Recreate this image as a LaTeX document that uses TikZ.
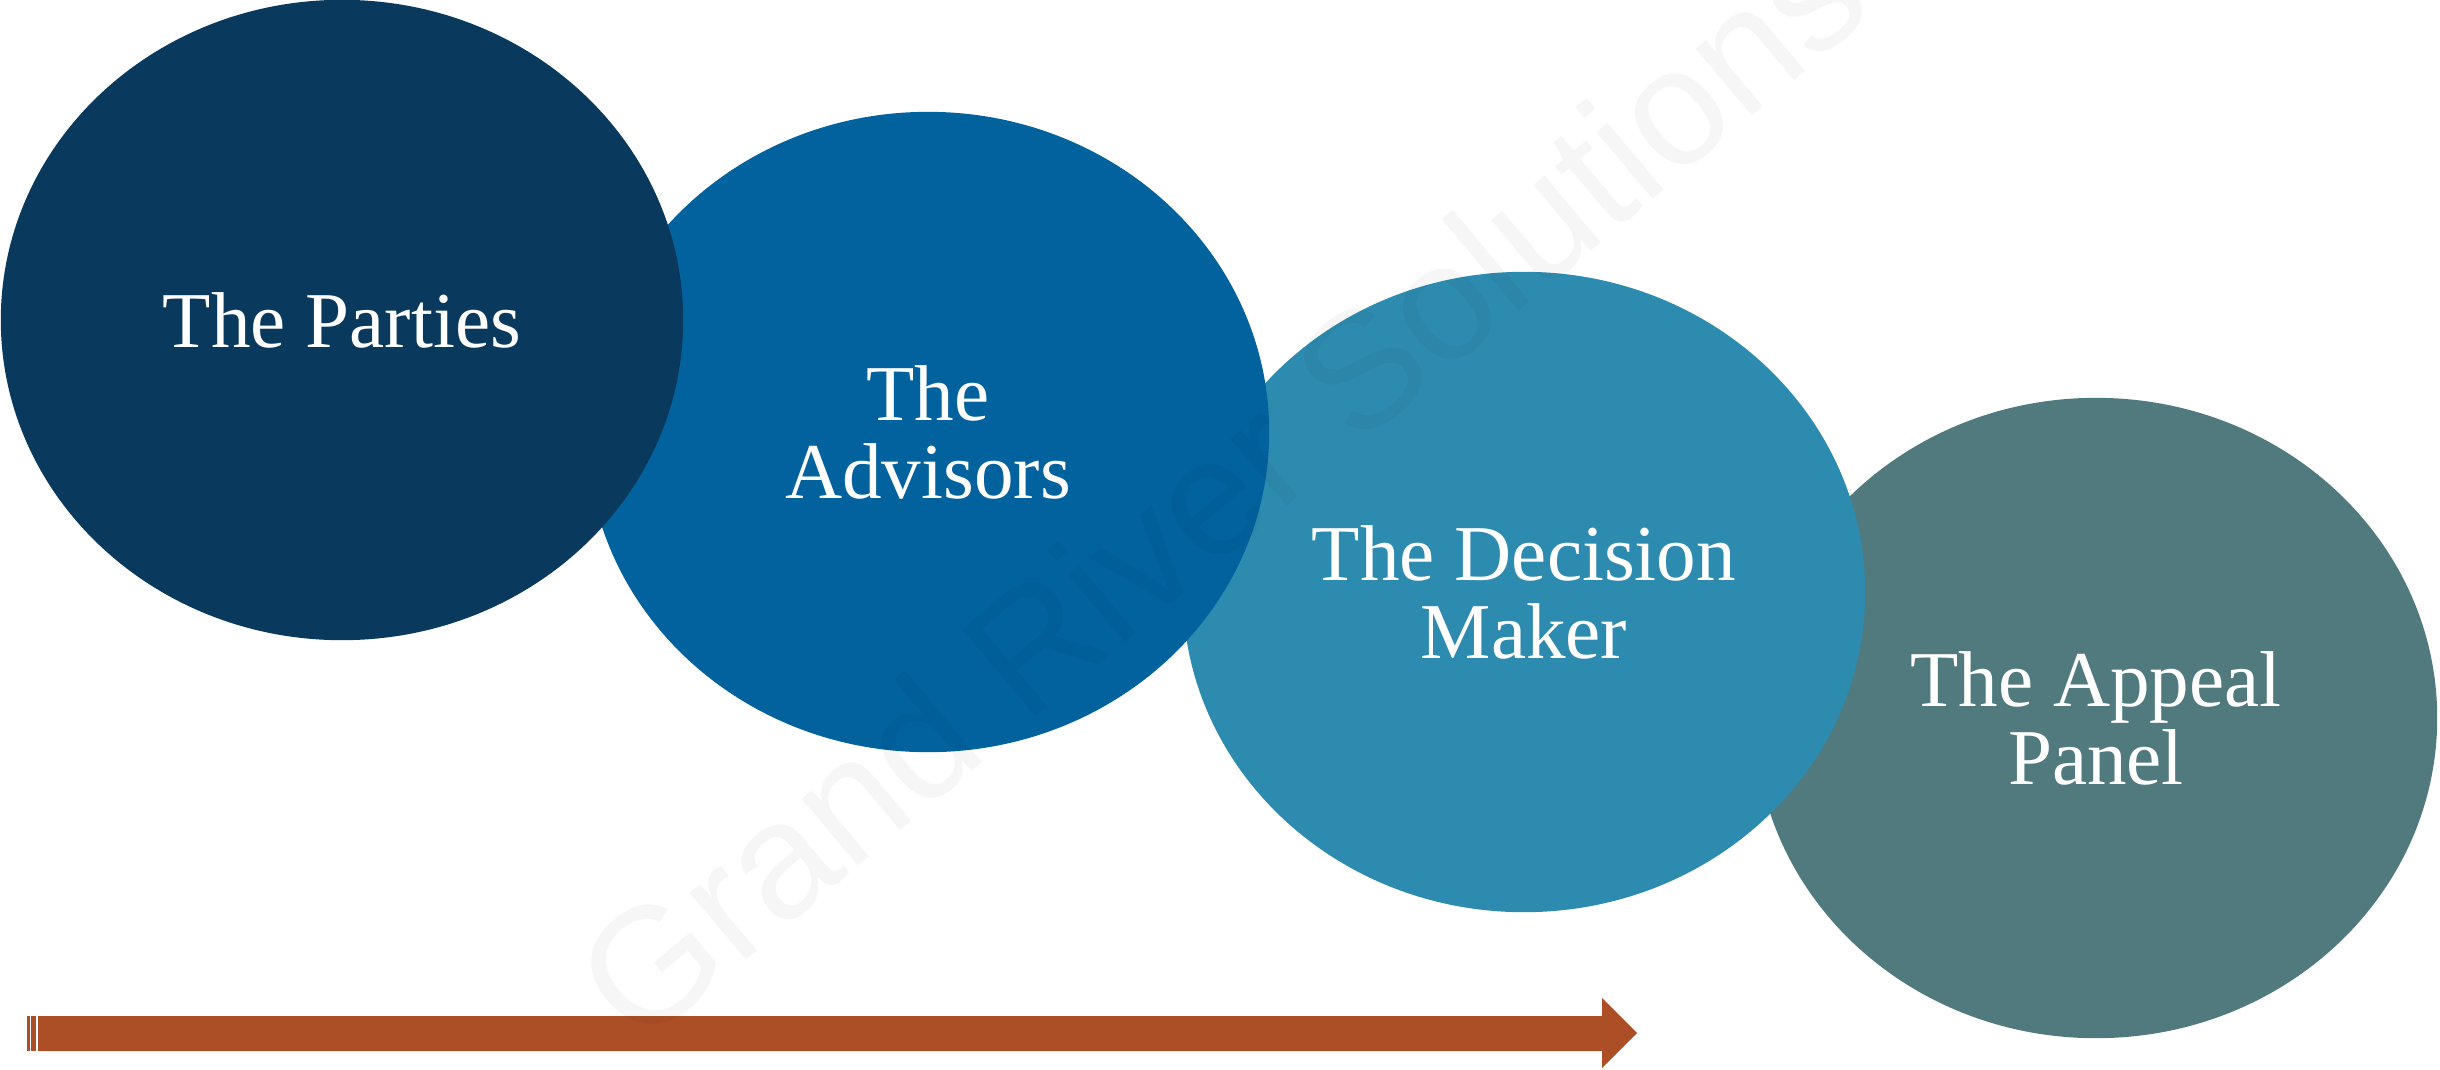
\documentclass[tikz,border=0pt]{standalone}
\usepackage{fontspec}
\setmainfont{Liberation Serif}
\setsansfont{Liberation Sans}
\usepackage{tikz}
\usetikzlibrary{shapes.geometric}

\definecolor{partiesblue}{HTML}{093A5E}
\definecolor{advisorsblue}{HTML}{02629E}
\definecolor{deciderblue}{HTML}{2E8BB0}
\definecolor{appealteal}{HTML}{507A7D}
\definecolor{timelinerust}{HTML}{AD4F26}

\tikzset{
	bubble/.style={ellipse, minimum width=6.82cm, minimum height=6.40cm, inner sep=0pt,
		text=white, align=center, font=\fontsize{22.5}{22.2}\selectfont},
	timeline/.style={fill=timelinerust, draw=none}
}

\begin{document}
\begin{tikzpicture}[x=0.01cm, y=-0.01cm]
					\useasboundingbox (0,0) rectangle (2440,1069);
					% Bubbles, back to front
					\node[bubble, fill=appealteal] (appeal) at (2096,718) {The Appeal\\Panel};
					\node[bubble, fill=deciderblue] (decider) at (1524,592) {The Decision\\Maker};
					\node[bubble, fill=advisorsblue] (advisors) at (928,432) {The\\Advisors};
					\node[bubble, fill=partiesblue] (parties) at (342,320) {The Parties};
					% Timeline arrow
					\foreach \a/\b in {27/29.5, 31/36} \fill[timeline] (\a,1016) rectangle (\b,1051);
					\fill[timeline] (38,1016) -- (1602,1016) -- (1602,998) -- (1637,1033)
						-- (1602,1068) -- (1602,1051) -- (38,1051) -- cycle;
					% Watermark
					\node[anchor=base west, rotate=40, inner sep=0pt, text=black, text opacity=0.035,
						font=\sffamily\fontsize{47}{47}\selectfont] (mark) at (638,1051) {Grand River Solutions};
				\end{tikzpicture}
\end{document}
